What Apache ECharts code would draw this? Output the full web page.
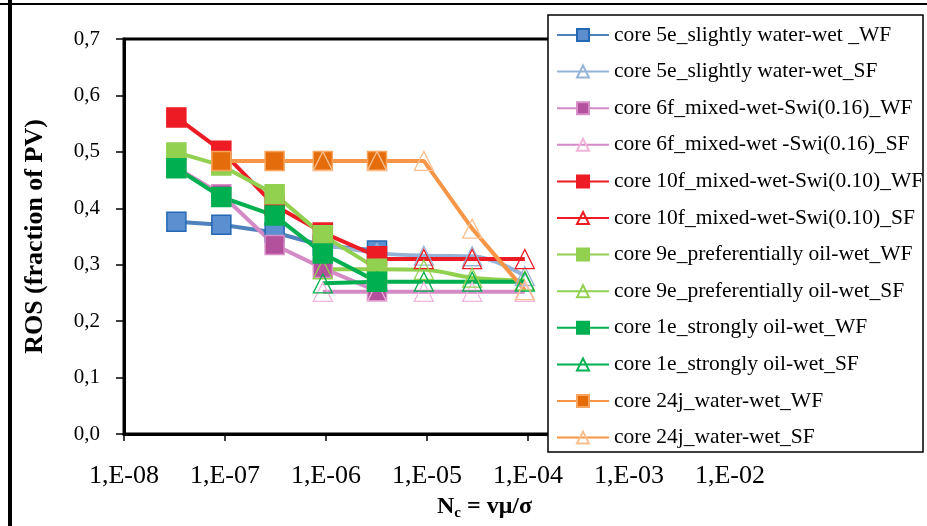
<!DOCTYPE html>
<html>
<head>
<meta charset="utf-8">
<script src="https://cdn.jsdelivr.net/npm/echarts@6/dist/echarts.min.js"></script>
<style>
  html, body { margin: 0; padding: 0; background: #fff; }
  #chart { width: 927px; height: 526px; }
</style>
</head>
<body>
<div id="chart"></div>
<script>
// Capillary number steps for water flooding (WF) and surfactant flooding (SF)
const ncWF = [3.3e-8, 9.2e-8, 3.1e-7, 9.3e-7, 3.2e-6];
const ncSF = [9.3e-7, 3.2e-6, 9.3e-6, 2.8e-5, 9.3e-5];

// Residual oil saturation, fraction of PV (null = no measurement at that step)
const core5eWF  = [0.376, 0.371, 0.357, 0.334, 0.325];
const core5eSF  = [0.336, 0.321, 0.316, 0.315, 0.280];
const core6fWF  = [0.472, 0.425, 0.335, 0.294, 0.253];
const core6fSF  = [0.252, 0.252, 0.252, 0.252, 0.252];
const core10fWF = [0.561, 0.502, 0.405, 0.357, 0.315];
const core10fSF = [null, 0.310, 0.310, 0.310, 0.310];
const core9eWF  = [0.499, 0.476, 0.425, 0.352, 0.293];
const core9eSF  = [0.292, 0.292, 0.291, 0.277, 0.272];
const core1eWF  = [0.471, 0.420, 0.387, 0.320, 0.270];
const core1eSF  = [0.267, 0.270, 0.270, 0.270, 0.270];
const core24jWF = [null, 0.484, 0.484, 0.484, 0.484];
const core24jSF = [0.484, 0.484, 0.484, 0.364, 0.255];

const seriesNames = [
  'core 5e_slightly water-wet _WF',
  'core 5e_slightly water-wet_SF',
  'core 6f_mixed-wet-Swi(0.16)_WF',
  'core 6f_mixed-wet -Swi(0.16)_SF',
  'core 10f_mixed-wet-Swi(0.10)_WF',
  'core 10f_mixed-wet-Swi(0.10)_SF',
  'core 9e_preferentially oil-wet_WF',
  'core 9e_preferentially oil-wet_SF',
  'core 1e_strongly oil-wet_WF',
  'core 1e_strongly oil-wet_SF',
  'core 24j_water-wet_WF',
  'core 24j_water-wet_SF'
];

const SERIF = 'Liberation Serif';

function pairs(xs, ys) {
  const out = [];
  ys.forEach((y, i) => { if (y !== null) out.push([xs[i], y]); });
  return out;
}

// Water flooding: filled squares
function wf(name, xs, ys, line, fill, border) {
  return {
    name, type: 'line', data: pairs(xs, ys),
    symbol: 'rect', symbolSize: 19,
    lineStyle: { color: line, width: 4 },
    itemStyle: { color: fill, borderColor: border, borderWidth: 1.5 },
    emphasis: { disabled: true }
  };
}
// Surfactant flooding: hollow triangles
function sf(name, xs, ys, line, edge, smooth) {
  return {
    name, type: 'line', data: pairs(xs, ys),
    symbol: 'triangle', symbolSize: 19, smooth: smooth || false,
    lineStyle: { color: line, width: 4 },
    itemStyle: { color: 'rgba(255,255,255,0)', borderColor: edge, borderWidth: 1.3 },
    emphasis: { disabled: true }
  };
}

const series = [
  wf(seriesNames[0], ncWF, core5eWF, '#4F81BD', '#5B8FD0', '#2468B4'),
  sf(seriesNames[1], ncSF, core5eSF, '#95B3D7', '#95B3D7', 0.4),
  wf(seriesNames[2], ncWF, core6fWF, '#D48BC5', '#B4519D', '#D88EC7'),
  sf(seriesNames[3], ncSF, core6fSF, '#D48BC5', '#F0B4DA'),
  wf(seriesNames[4], ncWF, core10fWF, '#ED1C24', '#ED1C24', '#ED1C24'),
  sf(seriesNames[5], ncSF, core10fSF, '#ED1C24', '#ED1C24'),
  wf(seriesNames[6], ncWF, core9eWF, '#92D050', '#92D050', '#92D050'),
  sf(seriesNames[7], ncSF, core9eSF, '#92D050', '#92D050', 0.4),
  wf(seriesNames[8], ncWF, core1eWF, '#00B050', '#00B050', '#00B050'),
  sf(seriesNames[9], ncSF, core1eSF, '#00B050', '#00B050'),
  wf(seriesNames[10], ncWF, core24jWF, '#F79646', '#E46C0A', '#F8A45C'),
  sf(seriesNames[11], ncSF, core24jSF, '#F79646', '#FAC08F')
];

const chart = echarts.init(document.getElementById('chart'), null, { renderer: 'canvas' });
chart.setOption({
  animation: false,
  backgroundColor: '#fff',
  grid: {
    left: 124, right: 96, top: 39, bottom: 89,
    show: true, borderColor: '#000', borderWidth: 3, backgroundColor: 'transparent'
  },
  xAxis: {
    type: 'log', logBase: 10, min: 1e-8, max: 1e-1,
    name: '{n|N}{c|c}{n| = vμ/σ}',
    nameLocation: 'middle', nameGap: 59,
    nameTextStyle: {
      padding: [0, 0, 0, 14],
      rich: {
        n: { fontFamily: SERIF, fontSize: 24, fontWeight: 'bold', color: '#000', lineHeight: 28 },
        c: { fontFamily: SERIF, fontSize: 15, fontWeight: 'bold', color: '#000', verticalAlign: 'bottom', lineHeight: 16 }
      }
    },
    axisLine: { show: true, lineStyle: { color: '#000', width: 3 } },
    axisTick: { show: true, length: 7, lineStyle: { color: '#000', width: 1.5 } },
    minorTick: { show: false },
    splitLine: { show: false },
    axisLabel: {
      fontFamily: SERIF, fontSize: 26, color: '#000', margin: 29,
      formatter: v => {
        const e = Math.round(Math.log10(v));
        if (e >= -1) return '';
        const a = Math.abs(e);
        return '1,E' + (e < 0 ? '-' : '+') + (a < 10 ? '0' + a : a);
      }
    }
  },
  yAxis: {
    type: 'value', min: 0, max: 0.7, interval: 0.1,
    name: 'ROS (fraction of PV)',
    nameLocation: 'middle', nameGap: 76,
    nameTextStyle: { fontFamily: SERIF, fontSize: 26, fontWeight: 'bold', color: '#000' },
    axisLine: { show: true, lineStyle: { color: '#000', width: 3 } },
    axisTick: { show: true, length: 8, lineStyle: { color: '#000', width: 1.5 } },
    splitLine: { show: false },
    axisLabel: {
      fontFamily: SERIF, fontSize: 21, color: '#000', margin: 24,
      formatter: v => v.toFixed(1).replace('.', ',')
    }
  },
  legend: {
    orient: 'vertical', left: 556, top: 24, padding: 0,
    itemWidth: 52, itemHeight: 15, itemGap: 14.6,
    data: seriesNames,
    textStyle: { fontFamily: SERIF, fontSize: 21.5, color: '#000' },
    selectedMode: false
  },
  graphic: [
    { type: 'line', shape: { x1: 10, y1: 0, x2: 10, y2: 526 }, style: { stroke: '#000', lineWidth: 4 }, z: 0, silent: true },
    { type: 'line', shape: { x1: 0, y1: 4, x2: 927, y2: 4 }, style: { stroke: '#000', lineWidth: 2 }, z: 0, silent: true },
    { type: 'rect', shape: { x: 548, y: 15, width: 375, height: 437 }, style: { fill: '#fff', stroke: '#000', lineWidth: 1.5 }, z: 3, silent: true }
  ],
  series: series
});
</script>
</body>
</html>
